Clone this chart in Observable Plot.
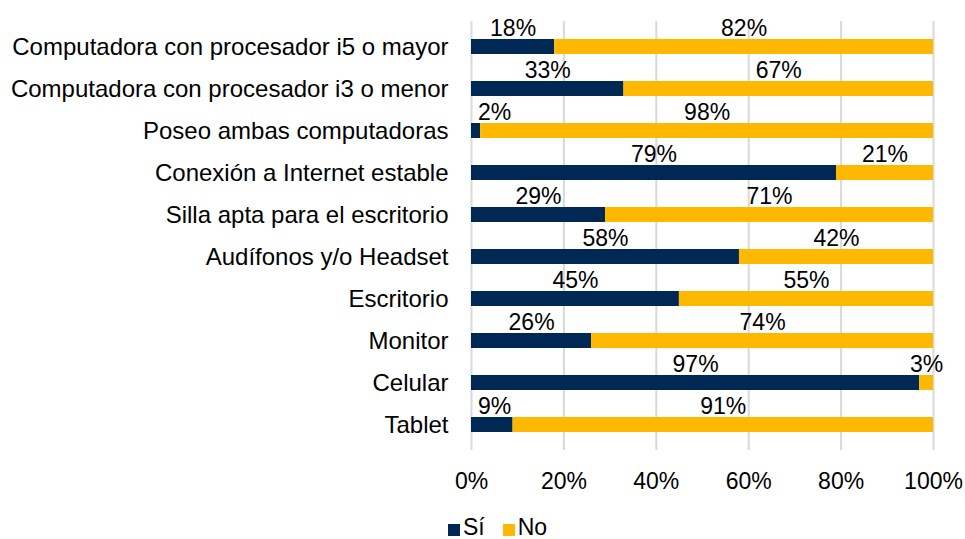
<!DOCTYPE html>
<html>
<head>
<meta charset="utf-8">
<script src="https://cdn.jsdelivr.net/npm/d3@7"></script>
<script src="https://cdn.jsdelivr.net/npm/@observablehq/plot@0.6"></script>
<style>
  html, body { margin: 0; padding: 0; background: #fff; }
  body { width: 965px; height: 539px; overflow: hidden; font-family: "Liberation Sans", Arial, sans-serif; }
  #legend { position: absolute; left: 448px; top: 516px; height: 23px; line-height: 23px; display: flex; align-items: center; font-size: 23px; color: #000; }
  .sw { width: 12px; height: 12px; display: inline-block; margin-right: 3px; position: relative; top: 2px; }
  .item { display: flex; align-items: center; margin-right: 18px; }
</style>
</head>
<body>
<div id="chart"></div>
<div id="legend"></div>
<script>
const categories = [
  "Computadora con procesador i5 o mayor",
  "Computadora con procesador i3 o menor",
  "Poseo ambas computadoras",
  "Conexión a Internet estable",
  "Silla apta para el escritorio",
  "Audífonos y/o Headset",
  "Escritorio",
  "Monitor",
  "Celular",
  "Tablet"
];
const si = [18, 33, 2, 79, 29, 58, 45, 26, 97, 9];
const no = [82, 67, 98, 21, 71, 42, 55, 74, 3, 91];
const series = ["Sí", "No"];
const colors = ["#002855", "#FFB800"];
const xTicks = [0, 20, 40, 60, 80, 100];

const rows = [];
categories.forEach((c, i) => {
  const vals = [si[i], no[i]];
  let acc = 0;
  vals.forEach((v, j) => {
    rows.push({cat: c, resp: series[j], x1: acc, x2: acc + v, mid: acc + v / 2, value: v});
    acc += v;
  });
});

const chart = Plot.plot({
  width: 965,
  height: 516,
  marginLeft: 471,
  marginRight: 32,
  marginTop: 21,
  marginBottom: 66,
  style: {fontFamily: "'Liberation Sans', Arial, sans-serif", fontSize: "23px", color: "#000", background: "#fff"},
  x: {domain: [0, 100], label: null},
  y: {domain: categories, paddingInner: 0.651, paddingOuter: 0.3255, label: null},
  color: {domain: series, range: colors},
  marks: [
    Plot.ruleX(xTicks, {stroke: "#d9d9d9", strokeWidth: 2}),
    Plot.barX(rows, {x1: "x1", x2: "x2", y: "cat", fill: "resp"}),
    Plot.text(rows, {x: d => Math.max(d.mid, 5), y: "cat", text: d => d.value + "%", dy: -18, fontSize: 23, fill: "#000"}),
    Plot.axisX({ticks: xTicks, tickFormat: d => d + "%", tickSize: 0, tickPadding: 22, fontSize: 23, label: null}),
    Plot.axisY({tickSize: 0, tickPadding: 23, fontSize: 24, label: null})
  ]
});
document.getElementById("chart").appendChild(chart);

const lg = document.getElementById("legend");
series.forEach((s, i) => {
  const it = document.createElement("span");
  it.className = "item";
  it.innerHTML = `<span class="sw" style="background:${colors[i]}"></span>${s}`;
  lg.appendChild(it);
});
</script>
</body>
</html>
